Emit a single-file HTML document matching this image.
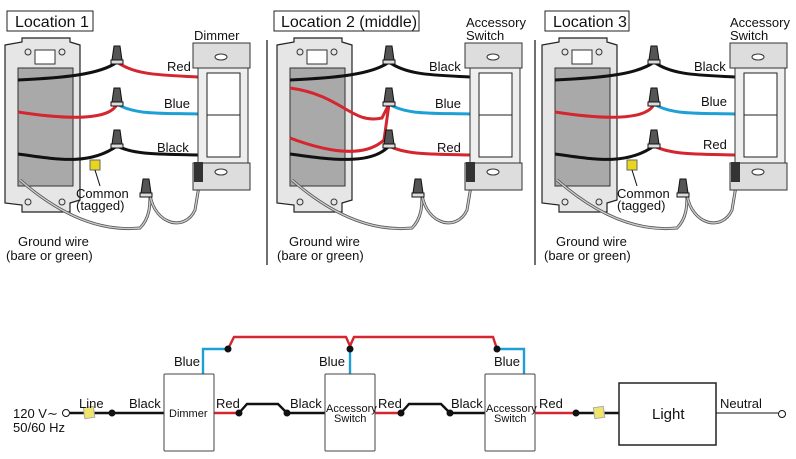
<!DOCTYPE html>
<html><head><style>
html,body{margin:0;padding:0;background:#fff;}
svg{display:block;font-family:"Liberation Sans",sans-serif;}
</style></head><body>
<svg width="796" height="459" viewBox="0 0 796 459" xmlns="http://www.w3.org/2000/svg">
<defs>
<g id="box">
  <path d="M5,45 L22,42 L22,38 L70,38 L70,42 L80,45 L80,200 L70,203 L70,212 L22,212 L22,205 L5,203 Z" fill="#e6e6e6" stroke="#222" stroke-width="1.2"/>
  <rect x="18" y="68" width="55" height="118" fill="#a9a9a9" stroke="#333"/>
  <rect x="35" y="50" width="20" height="14" fill="#fff" stroke="#333"/>
  <circle cx="28" cy="52" r="3" fill="none" stroke="#333"/><circle cx="62" cy="52" r="3" fill="none" stroke="#333"/>
  <circle cx="28" cy="202" r="3" fill="none" stroke="#333"/><circle cx="62" cy="202" r="3" fill="none" stroke="#333"/>
</g>
<g id="plate">
  <rect x="193" y="43" width="57" height="25" fill="#ddd" stroke="#333"/>
  <rect x="193" y="163" width="57" height="27" fill="#ddd" stroke="#333"/>
  <rect x="198" y="68" width="50" height="95" fill="#eee" stroke="#333"/>
  <rect x="207" y="73" width="33" height="84" fill="#fff" stroke="#222"/>
  <line x1="207" y1="115" x2="240" y2="115" stroke="#222"/>
  <ellipse cx="221" cy="57" rx="6" ry="3" fill="#fff" stroke="#333"/>
  <ellipse cx="221" cy="172" rx="6" ry="3" fill="#fff" stroke="#333"/>
  <rect x="194" y="162" width="9" height="20" fill="#333"/>
</g>
<g id="nut"><path d="M-5,0 L-3,-14 L3,-14 L5,0 Z" fill="#555" stroke="#111"/><rect x="-6" y="0" width="12" height="4" fill="#ddd" stroke="#111"/></g>
<g id="ground">
  <path d="M20,180 C60,215 100,232 140,228 C150,218 150,205 150,195" fill="none" stroke="#555" stroke-width="3"/>
  <path d="M20,180 C60,215 100,232 140,228 C150,218 150,205 150,195" fill="none" stroke="#ccc" stroke-width="1.4"/>
  <path d="M150,195 C155,225 185,232 195,210 L200,180" fill="none" stroke="#555" stroke-width="3"/>
  <path d="M150,195 C155,225 185,232 195,210 L200,180" fill="none" stroke="#ccc" stroke-width="1.4"/>
  <use href="#nut" x="146" y="193"/>
</g>
</defs>

<g font-size="13" fill="#111">
<line x1="267" y1="40" x2="267" y2="265" stroke="#111" stroke-width="1.2"/>
<line x1="535" y1="40" x2="535" y2="265" stroke="#111" stroke-width="1.2"/>

<!-- Panel 1 -->
<rect x="7" y="11" width="86" height="20" fill="#fff" stroke="#222"/>
<text x="15" y="27" font-size="16">Location 1</text>
<use href="#box"/>
<use href="#ground"/>
<path d="M18,80 C60,78 100,75 117,62" fill="none" stroke="#111" stroke-width="3"/>
<path d="M117,62 C135,75 160,75 198,77" fill="none" stroke="#d3262e" stroke-width="3"/>
<path d="M18,112 C70,120 110,120 117,104" fill="none" stroke="#d3262e" stroke-width="3"/>
<path d="M117,104 C135,115 160,113 198,114" fill="none" stroke="#1ea0d6" stroke-width="3"/>
<path d="M18,154 C60,160 90,165 117,146" fill="none" stroke="#111" stroke-width="3"/>
<path d="M117,146 C135,155 160,154 198,155" fill="none" stroke="#111" stroke-width="3"/>
<use href="#nut" x="117" y="60"/><use href="#nut" x="117" y="102"/><use href="#nut" x="117" y="144"/>
<rect x="90" y="160" width="10" height="10" fill="#ead51e" stroke="#666"/>
<line x1="95" y1="170" x2="100" y2="186" stroke="#111"/>
<use href="#plate"/>
<text x="194" y="40">Dimmer</text>
<text x="167" y="71">Red</text>
<text x="164" y="108">Blue</text>
<text x="157" y="152">Black</text>
<text x="76" y="198">Common</text>
<text x="76" y="210">(tagged)</text>
<text x="18" y="246">Ground wire</text>
<text x="6" y="260">(bare or green)</text>

<!-- Panel 2 -->
<rect x="274" y="11" width="145" height="20" fill="#fff" stroke="#222"/>
<text x="281" y="27" font-size="16">Location 2 (middle)</text>
<g transform="translate(272,0)">
<use href="#box"/>
<use href="#ground"/>
<path d="M18,80 C60,78 100,75 117,62" fill="none" stroke="#111" stroke-width="3"/>
<path d="M117,62 C135,75 160,75 198,77" fill="none" stroke="#111" stroke-width="3"/>
<path d="M18,88 C70,95 80,125 110,118 L117,104" fill="none" stroke="#d3262e" stroke-width="3"/>
<path d="M117,104 C135,115 160,113 198,114" fill="none" stroke="#1ea0d6" stroke-width="3"/>
<path d="M117,104 L112,140 C90,160 50,150 18,138" fill="none" stroke="#d3262e" stroke-width="3"/>
<path d="M18,154 C60,160 100,165 117,146" fill="none" stroke="#111" stroke-width="3"/>
<path d="M117,146 C135,155 160,154 198,155" fill="none" stroke="#d3262e" stroke-width="3"/>
<use href="#nut" x="117" y="60"/><use href="#nut" x="117" y="102"/><use href="#nut" x="117" y="144"/>
<use href="#plate"/>
</g>
<text x="466" y="27">Accessory</text>
<text x="466" y="40">Switch</text>
<text x="429" y="71">Black</text>
<text x="435" y="108">Blue</text>
<text x="437" y="152">Red</text>
<text x="289" y="246">Ground wire</text>
<text x="277" y="260">(bare or green)</text>

<!-- Panel 3 -->
<rect x="545" y="11" width="84" height="20" fill="#fff" stroke="#222"/>
<text x="553" y="27" font-size="16">Location 3</text>
<g transform="translate(537,0)">
<use href="#box"/>
<use href="#ground"/>
<path d="M18,80 C60,78 100,75 117,62" fill="none" stroke="#111" stroke-width="3"/>
<path d="M117,62 C135,75 160,75 198,77" fill="none" stroke="#111" stroke-width="3"/>
<path d="M18,112 C70,120 110,120 117,104" fill="none" stroke="#d3262e" stroke-width="3"/>
<path d="M117,104 C135,115 160,113 198,114" fill="none" stroke="#1ea0d6" stroke-width="3"/>
<path d="M18,154 C60,160 90,165 117,146" fill="none" stroke="#111" stroke-width="3"/>
<path d="M117,146 C135,155 160,154 198,155" fill="none" stroke="#d3262e" stroke-width="3"/>
<use href="#nut" x="117" y="60"/><use href="#nut" x="117" y="102"/><use href="#nut" x="117" y="144"/>
<rect x="90" y="160" width="10" height="10" fill="#ead51e" stroke="#666"/>
<line x1="95" y1="170" x2="100" y2="186" stroke="#111"/>
<use href="#plate"/>
</g>
<text x="730" y="27">Accessory</text>
<text x="730" y="40">Switch</text>
<text x="694" y="71">Black</text>
<text x="701" y="106">Blue</text>
<text x="703" y="149">Red</text>
<text x="617" y="198">Common</text>
<text x="617" y="210">(tagged)</text>
<text x="556" y="246">Ground wire</text>
<text x="544" y="260">(bare or green)</text>

<!-- Schematic -->
<path d="M228,349 L234,337 L346,337 L350,346 L354,337 L493,337 L497,349" fill="none" stroke="#d3262e" stroke-width="2.4"/>
<path d="M203,374 L203,349 L228,349" fill="none" stroke="#1ea0d6" stroke-width="2.4"/>
<path d="M350,374 L350,349" fill="none" stroke="#1ea0d6" stroke-width="2.4"/>
<path d="M497,349 L524,349 L524,374" fill="none" stroke="#1ea0d6" stroke-width="2.4"/>
<circle cx="228" cy="349" r="3.5" fill="#111"/><circle cx="350" cy="349" r="3.5" fill="#111"/><circle cx="497" cy="349" r="3.5" fill="#111"/>

<line x1="70" y1="413" x2="164" y2="413" stroke="#111" stroke-width="2.4"/>
<circle cx="66" cy="413" r="3.5" fill="#fff" stroke="#111"/>
<circle cx="112" cy="413" r="3.5" fill="#111"/>
<rect x="84" y="407" width="10" height="11" fill="#f1e46a" stroke="#aaa" transform="rotate(-8 89 412)"/>
<line x1="214" y1="413" x2="239" y2="413" stroke="#d3262e" stroke-width="2.4"/>
<path d="M239,413 L247,404 L278,404 L287,413 L325,413" fill="none" stroke="#111" stroke-width="2.4"/>
<circle cx="239" cy="413" r="3.5" fill="#111"/><circle cx="287" cy="413" r="3.5" fill="#111"/>
<line x1="375" y1="413" x2="401" y2="413" stroke="#d3262e" stroke-width="2.4"/>
<path d="M401,413 L409,404 L441,404 L450,413 L485,413" fill="none" stroke="#111" stroke-width="2.4"/>
<circle cx="401" cy="413" r="3.5" fill="#111"/><circle cx="450" cy="413" r="3.5" fill="#111"/>
<line x1="535" y1="413" x2="576" y2="413" stroke="#d3262e" stroke-width="2.4"/>
<line x1="576" y1="413" x2="619" y2="413" stroke="#111" stroke-width="2.4"/>
<circle cx="576" cy="413" r="3.5" fill="#111"/>
<rect x="594" y="407" width="10" height="11" fill="#f1e46a" stroke="#aaa" transform="rotate(-8 599 412)"/>
<line x1="716" y1="413" x2="778" y2="413" stroke="#111" stroke-width="1"/>
<circle cx="782" cy="414" r="3.5" fill="#fff" stroke="#111"/>

<rect x="164" y="374" width="50" height="77" fill="#fff" stroke="#444" rx="1"/>
<rect x="325" y="374" width="50" height="77" fill="#fff" stroke="#444" rx="1"/>
<rect x="485" y="374" width="50" height="77" fill="#fff" stroke="#444" rx="1"/>
<rect x="619" y="383" width="97" height="62" fill="#fff" stroke="#222" stroke-width="1.5"/>

<text x="169" y="417" font-size="11">Dimmer</text>
<text x="326" y="412" font-size="11">Accessory</text>
<text x="334" y="422" font-size="11">Switch</text>
<text x="486" y="412" font-size="11">Accessory</text>
<text x="494" y="422" font-size="11">Switch</text>
<text x="652" y="419" font-size="15">Light</text>
<text x="174" y="366">Blue</text>
<text x="319" y="366">Blue</text>
<text x="494" y="366">Blue</text>
<text x="79" y="408">Line</text>
<text x="129" y="408">Black</text>
<text x="216" y="408">Red</text>
<text x="290" y="408">Black</text>
<text x="378" y="408">Red</text>
<text x="451" y="408">Black</text>
<text x="539" y="408">Red</text>
<text x="720" y="408">Neutral</text>
<text x="13" y="418">120 V∼</text>
<text x="13" y="432">50/60 Hz</text>
</g>
</svg>
</body></html>
